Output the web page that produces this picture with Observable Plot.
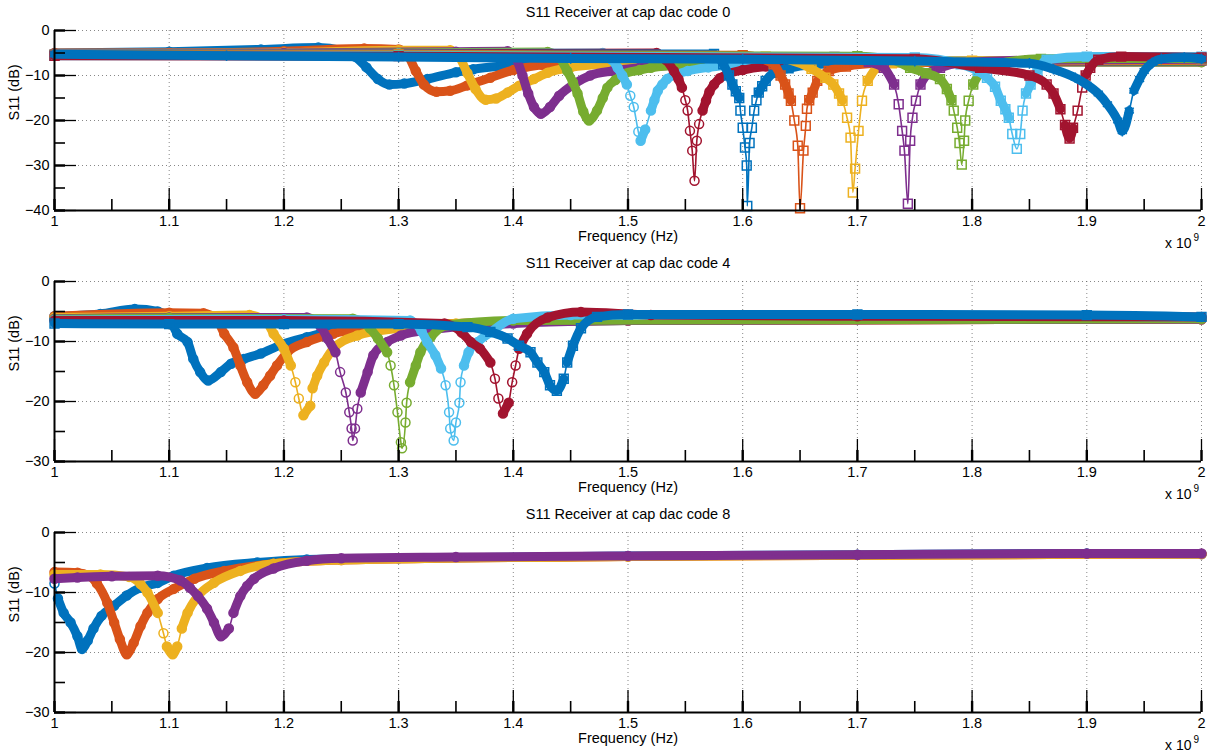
<!DOCTYPE html>
<html><head><meta charset="utf-8">
<script src="https://cdn.jsdelivr.net/npm/d3@7"></script>
<script src="https://cdn.jsdelivr.net/npm/@observablehq/plot@0.6"></script>
<style>
body{margin:0;background:#fff;}
#chart svg{display:block}
</style></head><body><div id="chart"></div>
<script>
// MATLAB default colour order
const matlabColors = ["#0072BD","#D95319","#EDB120","#7E2F8E","#77AC30","#4DBEEE","#A2142F"];

// frequency ticks (x 10^9 Hz)
const freqTicks = [1, 1.1, 1.2, 1.3, 1.4, 1.5, 1.6, 1.7, 1.8, 1.9, 2];
const freqMinorTicks = [1.05, 1.15, 1.25, 1.35, 1.45, 1.55, 1.65, 1.75, 1.85, 1.95];

// ---------- cap dac code 0 : [frequency (GHz), S11 (dB)] ----------
const c0_1 = [[1.0,-5.0],[1.1,-4.7],[1.18,-4.2],[1.23,-3.8],[1.25,-4.4],[1.262,-5.8],[1.272,-8.2],[1.282,-10.8],[1.292,-12.0],[1.305,-11.8],[1.325,-10.8],[1.35,-9.3],[1.365,-8.6],[1.39,-7.9],[1.42,-7.4],[1.47,-7.0],[1.6,-6.8],[1.8,-6.8],[2.0,-6.8]];
const c0_2 = [[1.0,-5.0],[1.1,-5.0],[1.2,-4.6],[1.27,-4.0],[1.3,-4.2],[1.308,-5.5],[1.315,-9],[1.322,-12],[1.333,-13.6],[1.345,-13.4],[1.36,-12.2],[1.38,-10.5],[1.4,-8.8],[1.425,-7.6],[1.46,-7.1],[1.55,-6.9],[1.8,-6.8],[2.0,-6.9]];
const c0_3 = [[1.0,-5.1],[1.2,-4.9],[1.3,-4.4],[1.345,-4.4],[1.352,-5.5],[1.36,-9.5],[1.367,-13],[1.376,-15.4],[1.385,-15.1],[1.395,-13.8],[1.405,-12.3],[1.418,-10.8],[1.43,-9.4],[1.45,-8.2],[1.48,-7.5],[1.55,-7.1],[1.8,-6.9],[2.0,-7.0]];
const c0_4 = [[1.0,-5.1],[1.2,-5.0],[1.35,-4.7],[1.395,-4.6],[1.402,-6],[1.408,-10],[1.413,-14],[1.418,-17],[1.424,-18.5],[1.432,-17],[1.44,-14.5],[1.453,-11.9],[1.467,-10],[1.487,-9],[1.51,-8.3],[1.55,-7.6],[1.65,-7.1],[2.0,-7.0]];
const c0_5 = [[1.0,-5.2],[1.3,-5.0],[1.43,-4.8],[1.44,-6],[1.447,-9],[1.452,-11.5],[1.456,-14],[1.461,-18],[1.466,-20],[1.473,-17.8],[1.478,-15],[1.482,-12.7],[1.489,-11],[1.496,-9.7],[1.51,-8.8],[1.52,-8.3],[1.55,-7.6],[1.65,-7.0],[2.0,-7.0]];
const c0_6 = [[1.0,-5.2],[1.3,-5.1],[1.478,-5.0],[1.486,-6.5],[1.491,-8.3],[1.495,-10],[1.499,-12],[1.502,-14.5],[1.505,-17],[1.509,-22.5],[1.511,-24.5],[1.515,-22],[1.52,-17.8],[1.523,-15.5],[1.526,-13.4],[1.53,-12],[1.534,-10.8],[1.542,-9.8],[1.552,-9],[1.57,-8.2],[1.6,-7.5],[1.7,-6.8],[2.0,-6.6]];
const c0_7 = [[1.0,-5.3],[1.3,-5.2],[1.525,-5.0],[1.533,-6.5],[1.54,-9],[1.544,-10.8],[1.547,-12.7],[1.55,-15.5],[1.552,-17.8],[1.554,-22.3],[1.556,-26.7],[1.558,-33.4],[1.56,-24.5],[1.562,-20.8],[1.565,-17.8],[1.568,-15.6],[1.571,-13.6],[1.575,-12],[1.58,-10.6],[1.587,-9.7],[1.6,-8.8],[1.62,-8.0],[1.68,-7.3],[1.8,-6.9],[2.0,-6.7]];
const c0_8 = [[1.0,-5.4],[1.3,-5.3],[1.575,-5.2],[1.583,-7.5],[1.588,-10],[1.591,-12],[1.594,-13.5],[1.597,-15],[1.598,-17.8],[1.6,-21.6],[1.602,-26],[1.6035,-30],[1.604,-39],[1.606,-25],[1.608,-21.6],[1.61,-17.8],[1.612,-15.5],[1.614,-13.8],[1.617,-12.4],[1.62,-11.2],[1.627,-9.4],[1.64,-8.4],[1.66,-7.6],[1.72,-7.0],[2.0,-6.7]];
const c0_9 = [[1.0,-5.4],[1.3,-5.3],[1.6,-5.5],[1.627,-7.5],[1.633,-10],[1.637,-12],[1.64,-14],[1.642,-15.6],[1.645,-20],[1.648,-25.6],[1.65,-39.5],[1.653,-26.7],[1.655,-21.2],[1.656,-17.4],[1.658,-15.5],[1.661,-13.8],[1.665,-11.2],[1.675,-9],[1.69,-8],[1.72,-7.3],[2.0,-6.6]];
const c0_10 = [[1.0,-5.5],[1.3,-5.4],[1.62,-5.8],[1.66,-8.5],[1.672,-10.5],[1.679,-12],[1.684,-14],[1.687,-15.6],[1.691,-19.4],[1.694,-23.8],[1.696,-36],[1.698,-30.7],[1.701,-22.3],[1.704,-15.6],[1.709,-11.2],[1.717,-8.3],[1.73,-7.3],[1.8,-6.7],[2.0,-6.5]];
const c0_11 = [[1.0,-5.5],[1.3,-5.5],[1.68,-5.9],[1.71,-7],[1.723,-8.3],[1.732,-12],[1.736,-16.4],[1.739,-22.3],[1.741,-26.7],[1.744,-38.5],[1.746,-24.5],[1.748,-19.4],[1.751,-15.6],[1.755,-12],[1.761,-9.7],[1.772,-8.3],[1.79,-7.2],[1.85,-6.6],[2.0,-6.4]];
const c0_12 = [[1.0,-5.5],[1.3,-5.5],[1.7,-5.7],[1.73,-6.5],[1.746,-8.3],[1.76,-9.5],[1.772,-10.8],[1.778,-13],[1.782,-15.5],[1.784,-17.8],[1.787,-21.6],[1.789,-25],[1.791,-29.8],[1.793,-24.5],[1.794,-20],[1.797,-15.6],[1.801,-12],[1.807,-9.4],[1.82,-7.5],[1.86,-6.3],[2.0,-6.2]];
const c0_13 = [[1.0,-5.6],[1.3,-5.6],[1.75,-6.0],[1.79,-7.5],[1.805,-9],[1.813,-10.5],[1.82,-12.5],[1.825,-15.6],[1.829,-17.5],[1.832,-19.4],[1.835,-23],[1.839,-26.3],[1.842,-23],[1.844,-17.8],[1.847,-14],[1.851,-12],[1.857,-9],[1.865,-6.5],[1.9,-5.8],[2.0,-5.8]];
const c0_14 = [[1.0,-5.6],[1.3,-5.7],[1.75,-6.3],[1.807,-8.3],[1.85,-10],[1.865,-12],[1.871,-14],[1.877,-17.5],[1.881,-21],[1.885,-24],[1.888,-21.6],[1.892,-17.8],[1.896,-12.7],[1.899,-10],[1.903,-8.3],[1.91,-6.5],[1.93,-5.8],[2.0,-6.0]];
const c0_15 = [[1.0,-5.3],[1.15,-5.6],[1.3,-5.9],[1.45,-6.2],[1.6,-6.4],[1.75,-6.8],[1.85,-7.3],[1.871,-8.6],[1.89,-10.5],[1.9,-12],[1.91,-14],[1.918,-16.4],[1.927,-20],[1.931,-22.4],[1.937,-17.8],[1.941,-13.4],[1.946,-10.8],[1.95,-9],[1.957,-7.2],[1.965,-6.3],[1.985,-6.0],[2.0,-6.3]];
const code0 = [c0_1,c0_2,c0_3,c0_4,c0_5,c0_6,c0_7,c0_8,c0_9,c0_10,c0_11,c0_12,c0_13,c0_14,c0_15];
const code0Markers = ["circle","circle","circle","circle","circle","circle","circle","square","square","square","square","square","square","square","asterisk"];

// ---------- cap dac code 4 ----------
const c4_1 = [[1.0,-5.8],[1.04,-5.4],[1.07,-4.6],[1.09,-5.0],[1.1,-6.2],[1.107,-8.7],[1.116,-10.1],[1.121,-12.9],[1.127,-15.1],[1.134,-16.5],[1.145,-15.1],[1.154,-13.7],[1.165,-12.9],[1.18,-12],[1.197,-10.6],[1.22,-9.3],[1.243,-8.2],[1.27,-7.6],[1.32,-7.2],[1.5,-6.5],[1.7,-6.3],[2.0,-6.3]];
const c4_2 = [[1.0,-5.8],[1.1,-5.2],[1.13,-5.3],[1.142,-6.5],[1.148,-8.7],[1.156,-11],[1.162,-14],[1.168,-16.8],[1.175,-18.7],[1.182,-17.3],[1.188,-15.7],[1.194,-14],[1.203,-11.8],[1.22,-10.1],[1.243,-8.7],[1.27,-7.8],[1.32,-7.2],[1.5,-6.5],[2.0,-6.3]];
const c4_3 = [[1.0,-6.0],[1.1,-5.8],[1.17,-5.6],[1.185,-6.8],[1.191,-8.7],[1.2,-11.2],[1.206,-14],[1.21,-16.8],[1.213,-19.5],[1.217,-22.3],[1.223,-20.7],[1.225,-17.8],[1.229,-15.7],[1.235,-13.5],[1.243,-11.2],[1.264,-9],[1.3,-7.8],[1.35,-7.0],[1.5,-6.5],[2.0,-6.3]];
const c4_4 = [[1.0,-6.2],[1.1,-6.0],[1.22,-6.0],[1.232,-7.5],[1.238,-9.5],[1.245,-11.8],[1.249,-15.1],[1.254,-18.5],[1.257,-21.8],[1.259,-24.5],[1.26,-26.5],[1.262,-24.5],[1.264,-21.2],[1.267,-18.5],[1.273,-15.1],[1.278,-12.3],[1.29,-10.1],[1.302,-9],[1.33,-8],[1.4,-7],[1.5,-6.5],[2.0,-6.3]];
const c4_5 = [[1.0,-6.3],[1.1,-6.1],[1.26,-6.2],[1.275,-7.8],[1.282,-9.5],[1.29,-11.8],[1.293,-14],[1.296,-17.3],[1.299,-21.8],[1.302,-26.8],[1.303,-27.8],[1.306,-23.5],[1.307,-20.2],[1.31,-16.8],[1.315,-14],[1.319,-11.8],[1.328,-9.3],[1.342,-7.3],[1.4,-6.5],[2.0,-6.2]];
const c4_6 = [[1.0,-6.4],[1.2,-6.3],[1.31,-6.5],[1.32,-8.3],[1.325,-10.1],[1.332,-12.3],[1.337,-14.5],[1.341,-17.3],[1.344,-21.8],[1.345,-24.5],[1.348,-26.5],[1.35,-23.5],[1.353,-20.2],[1.354,-16.8],[1.357,-14],[1.361,-11.8],[1.369,-10.1],[1.38,-8.5],[1.4,-6.2],[1.45,-5.6],[2.0,-5.9]];
const c4_7 = [[1.0,-6.5],[1.2,-6.5],[1.34,-7.0],[1.355,-8.5],[1.363,-10.1],[1.371,-11.2],[1.38,-13.5],[1.384,-16.2],[1.387,-19.5],[1.391,-22],[1.396,-20.2],[1.399,-16.8],[1.402,-14],[1.405,-11.2],[1.412,-8.7],[1.43,-6],[1.459,-5.1],[1.52,-5.6],[1.7,-5.8],[2.0,-5.9]];
const c4_8 = [[1.0,-7.0],[1.1,-7.1],[1.2,-7.1],[1.3,-7.1],[1.36,-7.6],[1.38,-8.4],[1.395,-9.5],[1.405,-10.7],[1.415,-11.8],[1.421,-13.5],[1.427,-15.1],[1.432,-17.3],[1.438,-18.2],[1.444,-16.2],[1.447,-13.5],[1.452,-10.7],[1.459,-7.8],[1.473,-5.9],[1.5,-5.5],[1.7,-5.5],[1.9,-5.6],[2.0,-5.9]];
const code4 = [c4_1,c4_2,c4_3,c4_4,c4_5,c4_6,c4_7,c4_8];
const code4Markers = ["circle","circle","circle","circle","circle","circle","circle","square"];

// ---------- cap dac code 8 ----------
const c8_1 = [[1.0,-8.5],[1.003,-11],[1.008,-13.4],[1.014,-15],[1.02,-17.3],[1.024,-19.4],[1.029,-18],[1.034,-16],[1.041,-13.9],[1.052,-12.2],[1.063,-10.5],[1.075,-9.2],[1.09,-8.4],[1.104,-7.2],[1.133,-5.9],[1.177,-5],[1.22,-4.5],[1.3,-4.3],[1.5,-3.9],[1.7,-3.7],[1.9,-3.5],[2.0,-3.6]];
const c8_2 = [[1.0,-6.6],[1.02,-6.7],[1.03,-7.2],[1.037,-8.5],[1.046,-11.7],[1.052,-15],[1.057,-17.8],[1.063,-20.3],[1.069,-18.4],[1.075,-15.6],[1.081,-13.4],[1.09,-11.1],[1.104,-9.4],[1.122,-7.7],[1.148,-6.4],[1.191,-5.2],[1.25,-4.6],[1.5,-4.0],[2.0,-3.6]];
const c8_3 = [[1.0,-7.0],[1.04,-7.0],[1.065,-7.4],[1.075,-8.6],[1.081,-10],[1.09,-13.4],[1.095,-16.8],[1.098,-19],[1.103,-20.3],[1.107,-19],[1.111,-16],[1.116,-13.4],[1.125,-10.6],[1.139,-8.4],[1.162,-6.4],[1.191,-5.2],[1.25,-4.6],[1.5,-4.0],[2.0,-3.6]];
const c8_4 = [[1.0,-7.7],[1.02,-7.5],[1.05,-7.3],[1.09,-7.2],[1.11,-8],[1.118,-9.2],[1.125,-10.6],[1.133,-12.7],[1.139,-15],[1.145,-17.3],[1.152,-16],[1.156,-13.4],[1.162,-10.6],[1.168,-8.9],[1.174,-7.7],[1.191,-6],[1.22,-4.7],[1.25,-4.3],[1.35,-4.1],[1.5,-3.9],[1.7,-3.7],[1.9,-3.5],[2.0,-3.5]];
const code8 = [c8_1,c8_2,c8_3,c8_4];
const code8Markers = ["circle","circle","circle","circle"];

const panelTitles = ["S11 Receiver at cap dac code 0","S11 Receiver at cap dac code 4","S11 Receiver at cap dac code 8"];
const yMins = [-40, -30, -30];
const yMajorTicks = [[0,-10,-20,-30,-40],[0,-10,-20,-30],[0,-10,-20,-30]];
const yMinorTicks = [[-5,-15,-25,-35],[-5,-15,-25],[-5,-15,-25]];
const panelSeries = [code0, code4, code8];
const panelMarkers = [code0Markers, code4Markers, code8Markers];

const W = 1209, H = 251, mL = 54, mR = 8, mT = 30, mB = 41;
const plotW = W - mL - mR, plotH = H - mT - mB;
const FONT = "'Liberation Sans', Arial, Helvetica, sans-serif";

function seriesMarks(pts, color, symbol, yRange) {
  const data = pts.map(([f, v]) => ({f, v}));
  const runs = [];
  let cur = null;
  for (let i = 0; i < data.length - 1; i++) {
    const dx = (data[i+1].f - data[i].f) * plotW;
    const dy = Math.abs(data[i+1].v - data[i].v) / yRange * plotH;
    if (dy / dx <= 3.2) {
      if (!cur) { cur = []; runs.push(cur); cur.push({...data[i], run: runs.length}); }
      cur.push({...data[i+1], run: runs.length});
    } else cur = null;
  }
  const band = runs.flat();
  return [
    Plot.line(band, {x: "f", y: "v", z: "run", stroke: color, strokeWidth: 9, curve: "monotone-x", strokeLinecap: "round", strokeLinejoin: "round"}),
    Plot.line(data, {x: "f", y: "v", stroke: color, strokeWidth: 1.6, curve: "monotone-x"}),
    Plot.dot(data, {x: "f", y: "v", stroke: color, symbol, r: symbol === "circle" ? 4.5 : 5, strokeWidth: 1.5, fill: "none"})
  ];
}

function panel(k) {
  const yMin = yMins[k];
  const yRange = -yMin;
  const marks = [
    Plot.gridX(freqTicks, {stroke: "#555", strokeOpacity: 0.7, strokeDasharray: "1,3", strokeWidth: 1}),
    Plot.gridY(yMajorTicks[k], {stroke: "#555", strokeOpacity: 0.7, strokeDasharray: "1,3", strokeWidth: 1})
  ];
  panelSeries[k].forEach((s, i) => {
    marks.push(...seriesMarks(s, matlabColors[i % 7], panelMarkers[k][i], yRange));
  });
  marks.push(
    Plot.ruleX(freqTicks, {stroke: "black", strokeWidth: 1.3, insetTop: plotH - 22}),
    Plot.ruleX(freqTicks, {stroke: "black", strokeWidth: 2.4, insetTop: plotH - 11}),
    Plot.ruleX(freqMinorTicks, {stroke: "black", strokeWidth: 1.6, insetTop: plotH - 11}),
    Plot.ruleY(yMajorTicks[k], {stroke: "black", strokeWidth: 1.3, insetRight: plotW - 22}),
    Plot.ruleY(yMajorTicks[k], {stroke: "black", strokeWidth: 2.4, insetRight: plotW - 11}),
    Plot.ruleY(yMinorTicks[k], {stroke: "black", strokeWidth: 1.6, insetRight: plotW - 11}),
    Plot.ruleX([1], {stroke: "black", strokeWidth: 2}),
    Plot.ruleY([yMin], {stroke: "black", strokeWidth: 2}),
    Plot.axisX(freqTicks, {tickSize: 0, tickPadding: 5, label: null, tickFormat: d => String(d), fontSize: 14.5}),
    Plot.axisY(yMajorTicks[k], {tickSize: 0, tickPadding: 5, label: null, tickFormat: d => d === 0 ? "0" : "\u2212" + Math.abs(d), fontSize: 14.5}),
    Plot.text([panelTitles[k]], {frameAnchor: "top", lineAnchor: "middle", dy: -18, text: d => d, fontSize: 14.5}),
    Plot.text(["Frequency (Hz)"], {frameAnchor: "bottom", lineAnchor: "middle", dy: 26, text: d => d, fontSize: 14.5}),
    Plot.text(["S11 (dB)"], {frameAnchor: "left", lineAnchor: "middle", dx: -40, rotate: -90, text: d => d, fontSize: 14.5}),
    Plot.text(["x 10"], {frameAnchor: "bottom-right", lineAnchor: "middle", dx: -10, dy: 33, textAnchor: "end", text: d => d, fontSize: 14}),
    Plot.text(["9"], {frameAnchor: "bottom-right", lineAnchor: "middle", dx: -8, dy: 27, textAnchor: "start", text: d => d, fontSize: 10})
  );
  return Plot.plot({
    width: W, height: H,
    marginLeft: mL, marginRight: mR, marginTop: mT, marginBottom: mB,
    x: {domain: [1, 2]},
    y: {domain: [yMin, 0]},
    style: {fontFamily: FONT, fontSize: "14.5px", background: "white", overflow: "visible", color: "black"},
    marks
  });
}

const root = document.getElementById("chart");
for (let k = 0; k < 3; k++) root.appendChild(panel(k));
</script>
</body></html>
